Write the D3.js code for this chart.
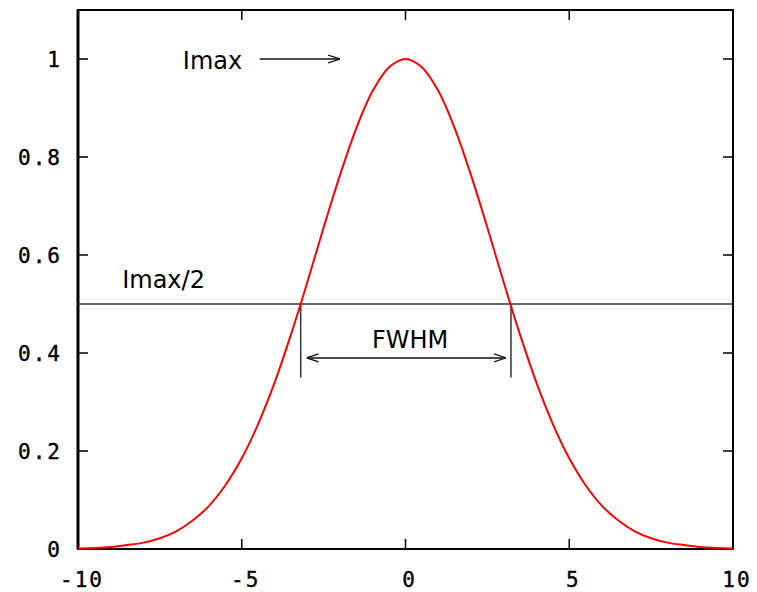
<!DOCTYPE html>
<html>
<head>
<meta charset="utf-8">
<script src="https://cdn.jsdelivr.net/npm/d3@7"></script>
<style>
  body { margin: 0; background: #fff; }
  .tick-label { font-family: "DejaVu Sans Mono", monospace; font-size: 21px; letter-spacing: 2px; fill: #000; stroke: #000; stroke-width: 0.4px; }
  .note { font-family: "DejaVu Sans", Verdana, sans-serif; font-size: 24px; fill: #000; }
</style>
</head>
<body>
<div id="chart"></div>
<script>
/**
 * DATA
 * */
const xs = [-10, -9.5, -9, -8.5, -8, -7.5, -7, -6.5, -6, -5.5, -5, -4.5, -4, -3.5, -3, -2.5, -2, -1.5, -1, -0.5,
  0, 0.5, 1, 1.5, 2, 2.5, 3, 3.5, 4, 4.5, 5, 5.5, 6, 6.5, 7, 7.5, 8, 8.5, 9, 9.5, 10];
const intensity = [0.001, 0.002, 0.004, 0.008, 0.013, 0.022, 0.036, 0.058, 0.088, 0.13, 0.185, 0.255, 0.339, 0.437, 0.544, 0.656, 0.763, 0.859, 0.935, 0.983,
  1, 0.983, 0.935, 0.859, 0.763, 0.656, 0.544, 0.437, 0.339, 0.255, 0.185, 0.13, 0.088, 0.058, 0.036, 0.022, 0.013, 0.008, 0.004, 0.002, 0.001];
const xTicks = [-10, -5, 0, 5, 10];
const yTicks = [0, 0.2, 0.4, 0.6, 0.8, 1];
const halfMax = 0.5;
const fwhmEdges = [-3.2, 3.22];

/**
 * CONSTANTS
 * */
const width = 757, height = 592;
const margin = { top: 10, right: 24, bottom: 43, left: 78 };

const x = d3.scaleLinear().domain([-10, 10]).range([margin.left, width - margin.right]);
const y = d3.scaleLinear().domain([0, 1.1]).range([height - margin.bottom, margin.top]);

const svg = d3.select("#chart").append("svg")
  .attr("width", width)
  .attr("height", height);

// arrowheads (open, like the original)
const defs = svg.append("defs");
function openHead(id, flip) {
  defs.append("marker")
    .attr("id", id)
    .attr("viewBox", "0 -6 12 12")
    .attr("refX", flip ? 0 : 12).attr("refY", 0)
    .attr("markerWidth", 12).attr("markerHeight", 12)
    .attr("markerUnits", "userSpaceOnUse")
    .attr("orient", "auto")
    .append("path")
    .attr("d", flip ? "M12,-4L0,0L12,4" : "M0,-4L12,0L0,4")
    .attr("fill", "none")
    .attr("stroke", "#111")
    .attr("stroke-width", 1.3);
}
openHead("head", false);
openHead("tail", true);

// frame
const [x0, x1] = x.range();
const [y0, y1] = y.range();
svg.append("rect")
  .attr("x", x0).attr("y", y1)
  .attr("width", x1 - x0).attr("height", y0 - y1)
  .attr("fill", "none").attr("stroke", "#000").attr("stroke-width", 2);
// the left border is drawn heavier in the original
svg.append("line")
  .attr("x1", x0).attr("x2", x0)
  .attr("y1", y1).attr("y2", y0)
  .attr("stroke", "#000").attr("stroke-width", 3);

// ticks pointing inward on all four sides
const tickLen = 10;
svg.selectAll(".xt-b").data(xTicks).join("line")
  .attr("x1", d => x(d)).attr("x2", d => x(d))
  .attr("y1", y0).attr("y2", y0 - tickLen)
  .attr("stroke", "#000").attr("stroke-width", 1.5);
svg.selectAll(".xt-t").data(xTicks).join("line")
  .attr("x1", d => x(d)).attr("x2", d => x(d))
  .attr("y1", y1).attr("y2", y1 + tickLen)
  .attr("stroke", "#000").attr("stroke-width", 1.5);
svg.selectAll(".yt-l").data(yTicks).join("line")
  .attr("x1", x0).attr("x2", x0 + tickLen)
  .attr("y1", d => y(d)).attr("y2", d => y(d))
  .attr("stroke", "#000").attr("stroke-width", 1.5);
svg.selectAll(".yt-r").data(yTicks).join("line")
  .attr("x1", x1).attr("x2", x1 - tickLen)
  .attr("y1", d => y(d)).attr("y2", d => y(d))
  .attr("stroke", "#000").attr("stroke-width", 1.5);

// tick labels
svg.selectAll(".xl").data(xTicks).join("text")
  .attr("class", "tick-label")
  .attr("x", d => x(d) + 4)
  .attr("y", y0 + 38)
  .attr("text-anchor", "middle")
  .text(d => d);
svg.selectAll(".yl").data(yTicks).join("text")
  .attr("class", "tick-label")
  .attr("x", 62)
  .attr("y", d => y(d))
  .attr("dy", "0.36em")
  .attr("text-anchor", "end")
  .text(d => d === 0 || d === 1 ? d : d.toFixed(1));

// half maximum line
svg.append("line")
  .attr("x1", x0).attr("x2", x1)
  .attr("y1", y(halfMax)).attr("y2", y(halfMax))
  .attr("stroke", "#333").attr("stroke-width", 1.5);

// FWHM markers
svg.selectAll(".fw").data(fwhmEdges).join("line")
  .attr("x1", d => x(d)).attr("x2", d => x(d))
  .attr("y1", y(halfMax)).attr("y2", y(0.35))
  .attr("stroke", "#333").attr("stroke-width", 1.5);

// gaussian curve
const line = d3.line()
  .x((d, i) => x(xs[i]))
  .y(d => y(d))
  .curve(d3.curveCatmullRom);
svg.append("path")
  .datum(intensity)
  .attr("d", line)
  .attr("fill", "none")
  .attr("stroke", "#f00")
  .attr("stroke-width", 2);

// double arrow for FWHM
svg.append("line")
  .attr("x1", x(fwhmEdges[0] + 0.18)).attr("x2", x(fwhmEdges[1] - 0.15))
  .attr("y1", y(0.39)).attr("y2", y(0.39))
  .attr("stroke", "#111").attr("stroke-width", 1.5)
  .attr("marker-start", "url(#tail)")
  .attr("marker-end", "url(#head)");

// Imax arrow
svg.append("line")
  .attr("x1", x(-4.45)).attr("x2", x(-2.0))
  .attr("y1", y(1)).attr("y2", y(1))
  .attr("stroke", "#111").attr("stroke-width", 1.5)
  .attr("marker-end", "url(#head)");

// annotations
svg.append("text").attr("class", "note")
  .attr("x", x(-6.8)).attr("y", y(0.98)).text("Imax");
svg.append("text").attr("class", "note")
  .attr("x", x(-8.65)).attr("y", y(0.533)).text("Imax/2");
svg.append("text").attr("class", "note")
  .attr("x", x(0.14)).attr("y", y(0.41))
  .attr("text-anchor", "middle").text("FWHM");
</script>
</body>
</html>
